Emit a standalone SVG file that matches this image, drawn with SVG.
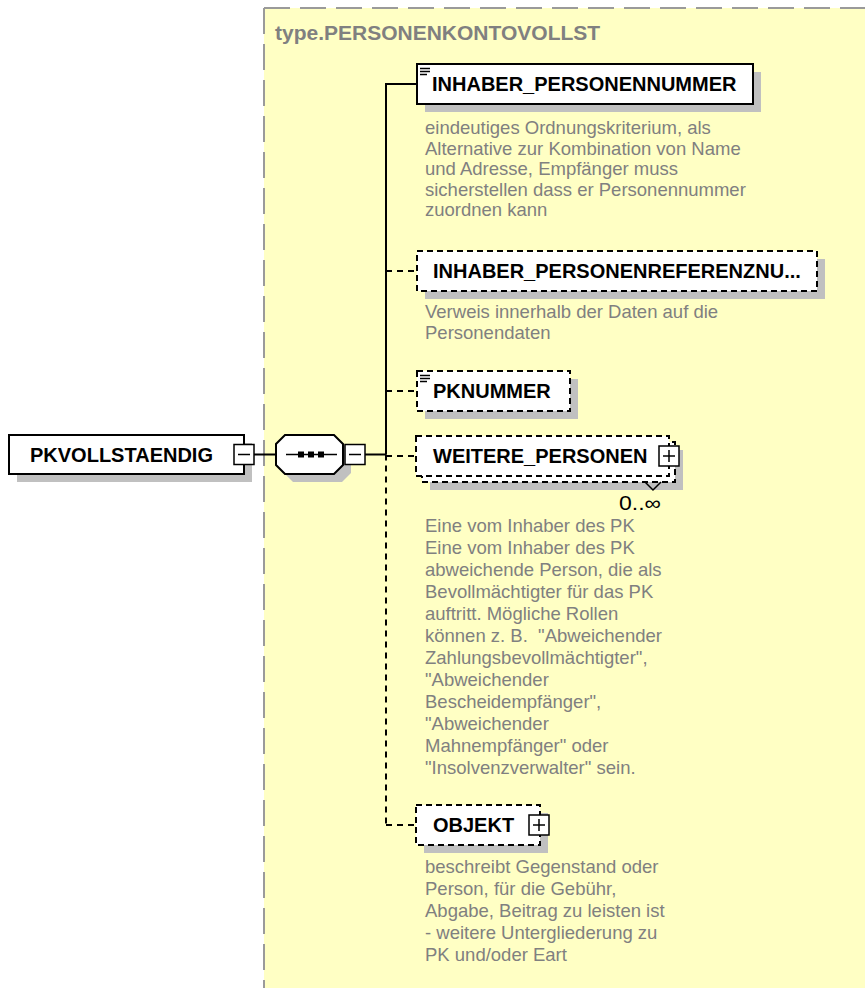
<svg xmlns="http://www.w3.org/2000/svg" width="865" height="988" viewBox="0 0 865 988">
<style>
.shadow{fill:#c0c0c0}
.box{fill:#fff;stroke:#000;stroke-width:2}
.opt{fill:#fff;stroke:#000;stroke-width:2;stroke-dasharray:6 4}
.lbl{font-family:"Liberation Sans",Arial,sans-serif;font-weight:bold;font-size:20px;fill:#000}
.desc{font-family:"Liberation Sans",Arial,sans-serif;font-size:18.5px;fill:#808080}
.ln{stroke:#000;stroke-width:2;fill:none}
.dl{stroke:#000;stroke-width:2;fill:none;stroke-dasharray:6 5}
.tog{fill:#fff;stroke:#000;stroke-width:1.5}
.sig{stroke:#000;stroke-width:1.5;fill:none}
.icon{stroke:#000;stroke-width:1.5}
.border{stroke:#9a9a9a;stroke-width:2;stroke-dasharray:26 10;fill:none}
</style>
<rect x="0" y="0" width="865" height="988" fill="#fff"/>
<g id="complex-type">
<rect x="264" y="8" width="601" height="980" fill="#FFFFC4"/>
<line class="border" x1="264" y1="8" x2="865" y2="8"/>
<line class="border" x1="264" y1="8" x2="264" y2="988"/>
<text x="275" y="40" font-family="'Liberation Sans',Arial,sans-serif" font-weight="bold" font-size="21" fill="#808080">type.PERSONENKONTOVOLLST</text>
</g>
<g id="connectors">
<line class="ln" x1="244" y1="454.5" x2="276" y2="454.5"/>
<line class="ln" x1="365" y1="454.5" x2="386" y2="454.5"/>
<line class="ln" x1="386" y1="83" x2="386" y2="454.5"/>
<line class="dl" x1="386" y1="454.5" x2="386" y2="825"/>
<line class="ln" x1="385" y1="84" x2="417" y2="84"/>
<line class="dl" x1="386" y1="271" x2="417" y2="271"/>
<line class="dl" x1="386" y1="391" x2="417" y2="391"/>
<line class="dl" x1="386" y1="456" x2="416" y2="456"/>
<line class="dl" x1="386" y1="825" x2="416" y2="825"/>
</g>
<g id="node-PKVOLLSTAENDIG">
<rect class="shadow" x="17" y="443" width="235" height="39"/>
<rect class="box" x="9" y="435" width="235" height="39"/>
<text class="lbl" x="30" y="461.5">PKVOLLSTAENDIG</text>
<rect class="tog" x="234" y="444.5" width="20" height="20"/>
<line class="sig" x1="238" y1="454.5" x2="250" y2="454.5"/>
</g>
<g id="node-sequence">
<polygon class="shadow" points="293,443 342,443 351,452 351,473 342,482 293,482 284,473 284,452"/>
<polygon class="box" points="285,435 334,435 343,444 343,465 334,474 285,474 276,465 276,444"/>
<line class="sig" x1="286" y1="454.5" x2="337" y2="454.5"/>
<rect x="298" y="451.5" width="6" height="6" fill="#000"/>
<rect x="308" y="451.5" width="6" height="6" fill="#000"/>
<rect x="318" y="451.5" width="6" height="6" fill="#000"/>
<rect class="tog" x="345" y="444.5" width="20" height="20"/>
<line class="sig" x1="349" y1="454.5" x2="361" y2="454.5"/>
</g>
<g id="node-INHABER_PERSONENNUMMER">
<rect class="shadow" x="425" y="72" width="336" height="40"/>
<rect class="box" x="417" y="64" width="336" height="40"/>
<line class="icon" x1="420" y1="68.5" x2="430" y2="68.5"/>
<line class="icon" x1="420" y1="71.5" x2="430" y2="71.5"/>
<line class="icon" x1="420" y1="74.5" x2="427" y2="74.5"/>
<text class="lbl" x="432" y="91">INHABER_PERSONENNUMMER</text>
<text class="desc" x="425" y="134">eindeutiges Ordnungskriterium, als</text>
<text class="desc" x="425" y="154.5">Alternative zur Kombination von Name</text>
<text class="desc" x="425" y="175">und Adresse, Empfänger muss</text>
<text class="desc" x="425" y="195.5">sicherstellen dass er Personennummer</text>
<text class="desc" x="425" y="216">zuordnen kann</text>
</g>
<g id="node-INHABER_PERSONENREFERENZNU">
<rect class="shadow" x="425" y="259" width="400" height="40"/>
<rect class="opt" x="417" y="251" width="400" height="40"/>
<text class="lbl" x="433" y="278">INHABER_PERSONENREFERENZNU...</text>
<text class="desc" x="425" y="318">Verweis innerhalb der Daten auf die</text>
<text class="desc" x="425" y="339">Personendaten</text>
</g>
<g id="node-PKNUMMER">
<rect class="shadow" x="425" y="379" width="153" height="40"/>
<rect class="opt" x="417" y="371" width="153" height="40"/>
<line class="icon" x1="420" y1="375.5" x2="430" y2="375.5"/>
<line class="icon" x1="420" y1="378.5" x2="430" y2="378.5"/>
<line class="icon" x1="420" y1="381.5" x2="427" y2="381.5"/>
<text class="lbl" x="433" y="398">PKNUMMER</text>
</g>
<g id="node-WEITERE_PERSONEN">
<rect class="shadow" x="430" y="450" width="253" height="40"/>
<rect class="opt" x="422" y="442" width="253" height="40"/>
<rect class="opt" x="416" y="436" width="253" height="40"/>
<text class="lbl" x="433" y="463">WEITERE_PERSONEN</text>
<rect class="tog" x="659" y="446" width="20" height="20"/>
<line class="sig" x1="663" y1="456" x2="675" y2="456"/>
<line class="sig" x1="669" y1="450" x2="669" y2="462"/>
<polyline class="sig" points="645,482 653,490 661,482"/>
<text x="619" y="510" font-family="'Liberation Sans',Arial,sans-serif" font-size="20" fill="#000" textLength="42" lengthAdjust="spacingAndGlyphs">0..∞</text>
<text class="desc" x="425" y="532">Eine vom Inhaber des PK</text>
<text class="desc" x="425" y="554">Eine vom Inhaber des PK</text>
<text class="desc" x="425" y="576">abweichende Person, die als</text>
<text class="desc" x="425" y="598">Bevollmächtigter für das PK</text>
<text class="desc" x="425" y="620">auftritt. Mögliche Rollen</text>
<text class="desc" x="425" y="642">können z. B.&#160; "Abweichender</text>
<text class="desc" x="425" y="664">Zahlungsbevollmächtigter",</text>
<text class="desc" x="425" y="686">"Abweichender</text>
<text class="desc" x="425" y="708">Bescheidempfänger",</text>
<text class="desc" x="425" y="730">"Abweichender</text>
<text class="desc" x="425" y="752">Mahnempfänger" oder</text>
<text class="desc" x="425" y="774">"Insolvenzverwalter" sein.</text>
</g>
<g id="node-OBJEKT">
<rect class="shadow" x="424" y="813" width="124" height="40"/>
<rect class="opt" x="416" y="805" width="124" height="40"/>
<text class="lbl" x="433" y="832">OBJEKT</text>
<rect class="tog" x="529" y="815" width="20" height="20"/>
<line class="sig" x1="533" y1="825" x2="545" y2="825"/>
<line class="sig" x1="539" y1="819" x2="539" y2="831"/>
<text class="desc" x="425" y="873">beschreibt Gegenstand oder</text>
<text class="desc" x="425" y="895">Person, für die Gebühr,</text>
<text class="desc" x="425" y="917">Abgabe, Beitrag zu leisten ist</text>
<text class="desc" x="425" y="939">- weitere Untergliederung zu</text>
<text class="desc" x="425" y="961">PK und/oder Eart</text>
</g>
</svg>
